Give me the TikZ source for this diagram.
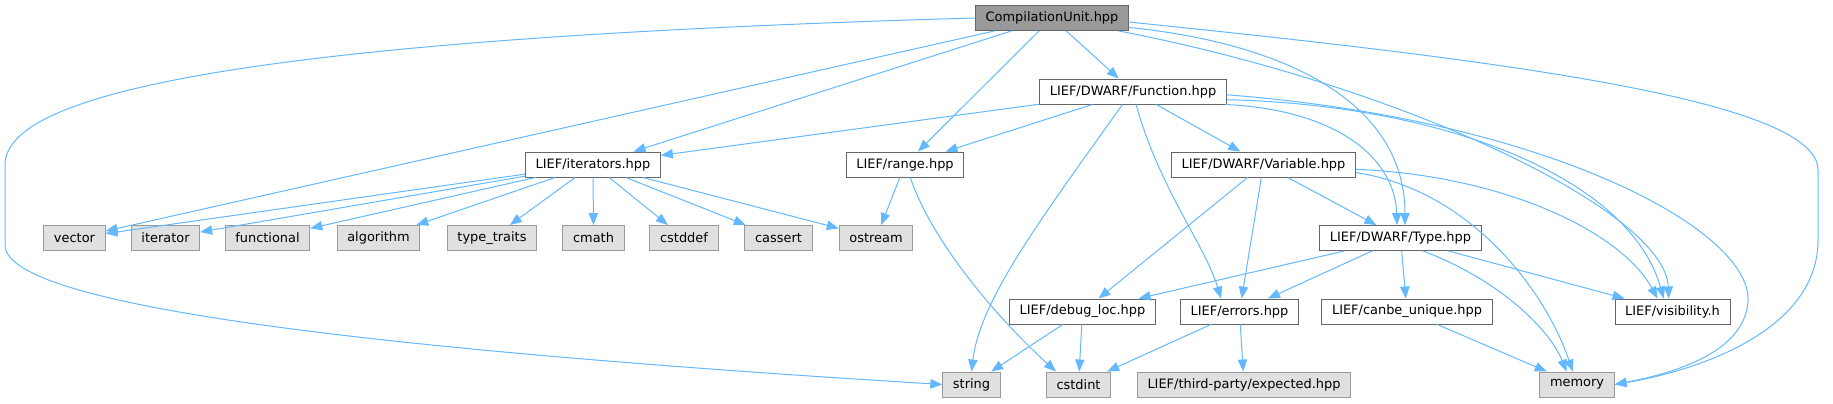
\documentclass[tikz,border=0pt]{standalone}
\usepackage{fontspec}
\setmainfont{DejaVu Sans}
\usetikzlibrary{arrows.meta}
\definecolor{EdgeBlue}{HTML}{63B8FF}
\definecolor{LeafFill}{HTML}{E0E0E0}
\definecolor{LeafLine}{HTML}{999999}
\definecolor{BoxLine}{HTML}{666666}
\definecolor{RootFill}{HTML}{999999}

\begin{document}
\begin{tikzpicture}[x=0.75pt, y=-0.75pt,
	FileNode/.style={draw=BoxLine, fill=white, line width=0.7pt, minimum height=18.75pt, inner xsep=7.6pt, inner ysep=0pt, font=\fontsize{9.7}{11}\selectfont},
	LeafNode/.style={FileNode, draw=LeafLine, fill=LeafFill},
	RootNode/.style={FileNode, fill=RootFill},
	IncEdge/.style={draw=EdgeBlue, line width=0.75pt, -{Triangle[length=9pt, width=7pt]}}]
		\useasboundingbox (0,0) rectangle (1833,403);
		
		% Pliki naglowkowe
		\node[RootNode] (CU) at (1052,18) {CompilationUnit.hpp};
		\node[FileNode] (Func) at (1133,91.5) {LIEF/DWARF/Function.hpp};
		\node[FileNode] (Iter) at (593,164.5) {LIEF/iterators.hpp};
		\node[FileNode] (Range) at (905,164.5) {LIEF/range.hpp};
		\node[FileNode] (Var) at (1263.5,164.5) {LIEF/DWARF/Variable.hpp};
		\node[FileNode] (Type) at (1400.5,238) {LIEF/DWARF/Type.hpp};
		\node[FileNode] (DbgLoc) at (1082.5,311.5) {LIEF/debug\_loc.hpp};
		\node[FileNode] (Errors) at (1239.5,311.5) {LIEF/errors.hpp};
		\node[FileNode] (Canbe) at (1407,311.5) {LIEF/canbe\_unique.hpp};
		\node[FileNode] (Vis) at (1672.5,311.5) {LIEF/visibility.h};
		
		% Naglowki systemowe
		\node[LeafNode] (Vector) at (74.5,238) {vector};
		\node[LeafNode] (Iterator) at (165.5,238) {iterator};
		\node[LeafNode] (Functional) at (267.5,238) {functional};
		\node[LeafNode] (Algorithm) at (378.5,238) {algorithm};
		\node[LeafNode] (TypeTraits) at (492,238) {type\_traits};
		\node[LeafNode] (Cmath) at (593.5,238) {cmath};
		\node[LeafNode] (Cstddef) at (684,238) {cstddef};
		\node[LeafNode] (Cassert) at (778.5,238) {cassert};
		\node[LeafNode] (Ostream) at (876,238) {ostream};
		\node[LeafNode] (String) at (971.5,384.5) {string};
		\node[LeafNode] (Cstdint) at (1078.5,384.5) {cstdint};
		\node[LeafNode] (Expected) at (1244,384.5) {LIEF/third-party/expected.hpp};
		\node[LeafNode] (Memory) at (1577,384.5) {memory};
		
		% CompilationUnit.hpp
		\draw[IncEdge] (CU.west) .. controls (200,40) and (5,100) .. (5,165) -- (5,245) .. controls (5,300) and (300,345) .. (String.west);
		\draw[IncEdge] (CU) -- (Vector);
		\draw[IncEdge] (CU) -- (Iter);
		\draw[IncEdge] (CU) -- (Range);
		\draw[IncEdge] (CU) -- (Func);
		\draw[IncEdge] (CU.-7) .. controls (1300,45) and (1405,110) .. (Type.71);
		\draw[IncEdge] (CU.-11) .. controls (1400,85) and (1665,210) .. (Vis.106);
		\draw[IncEdge] (CU.-3) .. controls (1500,60) and (1818,100) .. (1818,170) -- (1818,240) .. controls (1818,330) and (1700,370) .. (Memory.east);
		
		% Function.hpp
		\draw[IncEdge] (Func) -- (Iter);
		\draw[IncEdge] (Func) -- (Range);
		\draw[IncEdge] (Func.-129) .. controls (1040,220) and (980,300) .. (String.north);
		\draw[IncEdge] (Func.-77) .. controls (1160,190) and (1205,245) .. (Errors.145);
		\draw[IncEdge] (Func) -- (Var);
		\draw[IncEdge] (Func.-8) .. controls (1340,110) and (1395,160) .. (Type.105);
		\draw[IncEdge] (Func.-5) .. controls (1450,105) and (1630,180) .. (Vis.124);
		\draw[IncEdge] (Func.-2) .. controls (1550,120) and (1750,230) .. (1748,300) .. controls (1746,350) and (1680,372) .. (Memory.east);
		
		% iterators.hpp
		\draw[IncEdge] (Iter) -- (Vector);
		\draw[IncEdge] (Iter) -- (Iterator);
		\draw[IncEdge] (Iter) -- (Functional);
		\draw[IncEdge] (Iter) -- (Algorithm);
		\draw[IncEdge] (Iter) -- (TypeTraits);
		\draw[IncEdge] (Iter) -- (Cmath);
		\draw[IncEdge] (Iter) -- (Cstddef);
		\draw[IncEdge] (Iter) -- (Cassert);
		\draw[IncEdge] (Iter) -- (Ostream);
		
		% range.hpp
		\draw[IncEdge] (Range) -- (Ostream);
		\draw[IncEdge] (Range.-68) .. controls (935,250) and (1010,330) .. (Cstdint.150);
		
		% Variable.hpp
		\draw[IncEdge] (Var) -- (DbgLoc);
		\draw[IncEdge] (Var) -- (Errors);
		\draw[IncEdge] (Var) -- (Type);
		\draw[IncEdge] (Var.-3) .. controls (1500,175) and (1620,230) .. (Vis.139);
		\draw[IncEdge] (Var.-5) .. controls (1470,190) and (1545,290) .. (Memory.108);
		
		% Type.hpp
		\draw[IncEdge] (Type) -- (DbgLoc);
		\draw[IncEdge] (Type) -- (Errors);
		\draw[IncEdge] (Type) -- (Canbe);
		\draw[IncEdge] (Type.-30) .. controls (1500,280) and (1550,330) .. (Memory.129);
		\draw[IncEdge] (Type) -- (Vis);
		
		% pozostale
		\draw[IncEdge] (DbgLoc) -- (String);
		\draw[IncEdge] (DbgLoc) -- (Cstdint);
		\draw[IncEdge] (Errors) -- (Cstdint);
		\draw[IncEdge] (Errors) -- (Expected);
		\draw[IncEdge] (Canbe) -- (Memory);
	\end{tikzpicture}
\end{document}
